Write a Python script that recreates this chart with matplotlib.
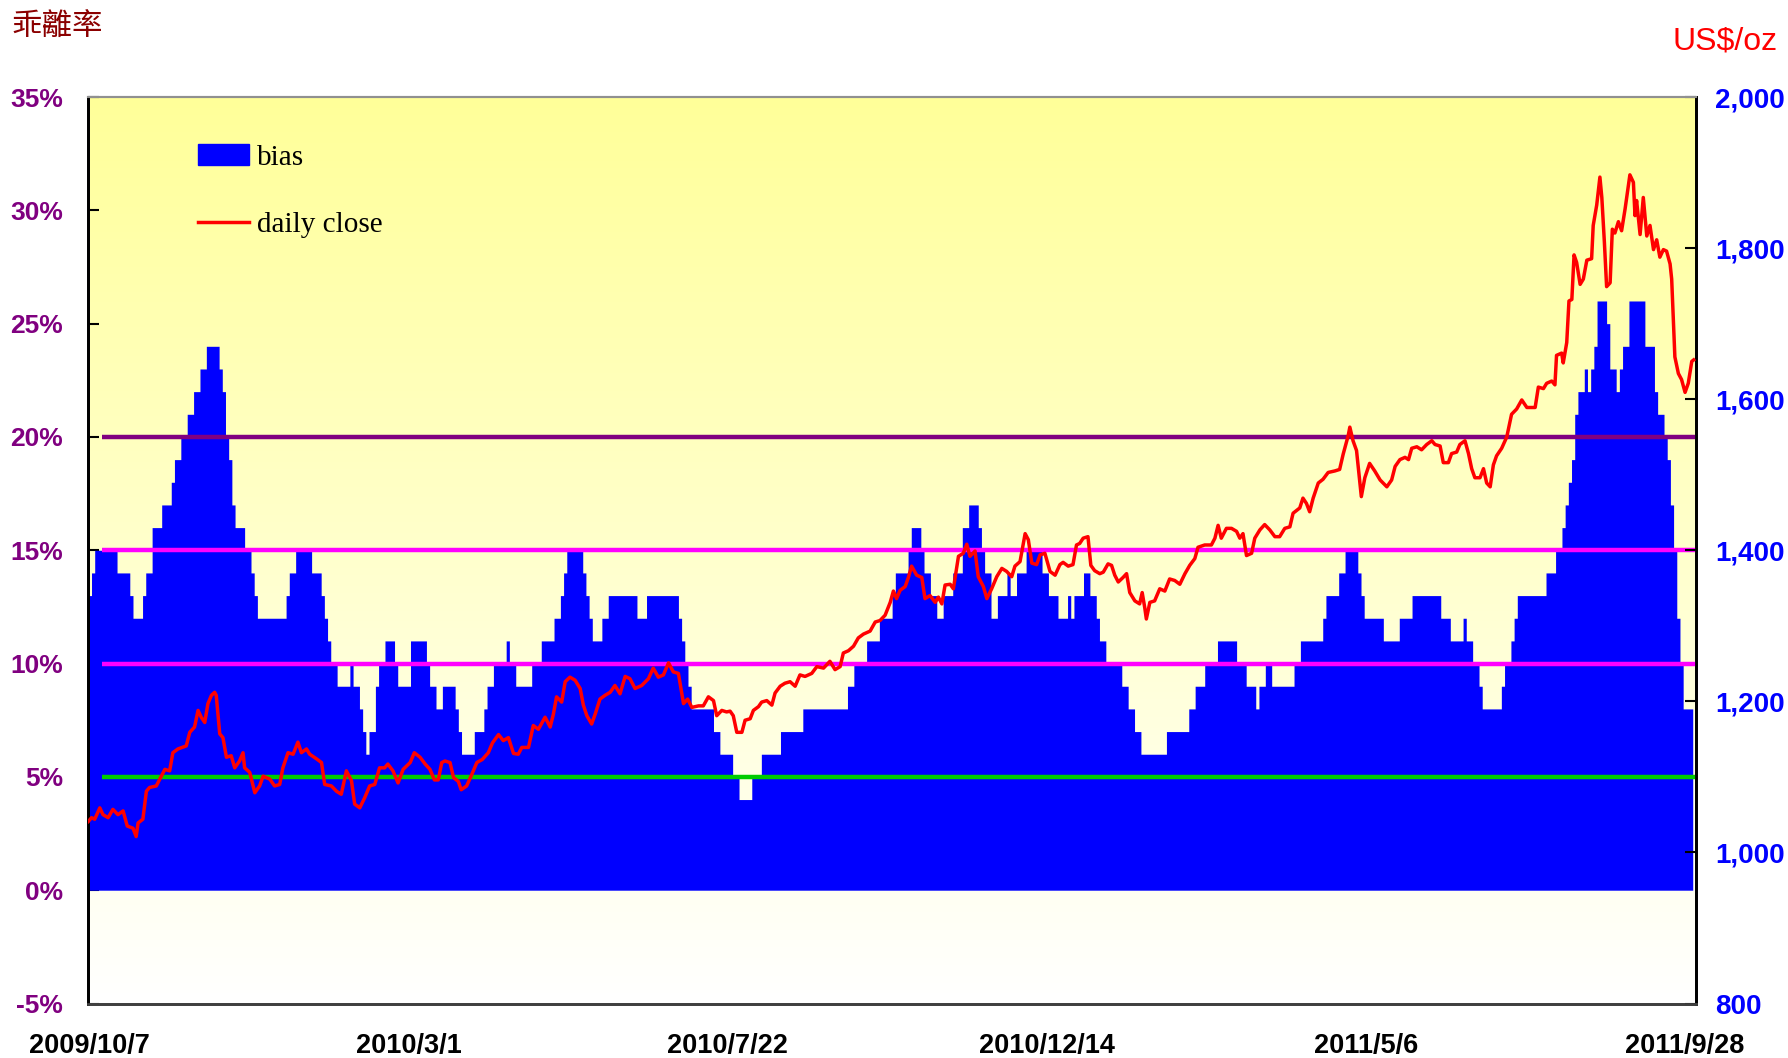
import numpy as np
import matplotlib
matplotlib.use("Agg")
import matplotlib.pyplot as plt
from matplotlib.patches import Patch
from matplotlib.lines import Line2D
from matplotlib.colors import LinearSegmentedColormap

# ---------------------------------------------------------------
# data (x = trading day index since 2009/10/7)
# ---------------------------------------------------------------
n_days = 504
date_labels = ["2009/10/7", "2010/3/1", "2010/7/22", "2010/12/14", "2011/5/6", "2011/9/28"]
label_every = 100

# bias (%) as steps: (first day, value)
bias_runs = [
    (0, 13), (1, 14), (2, 15), (9, 14), (13, 13), (14, 12), (17, 13), (18, 14), (20, 16),
    (23, 17), (26, 18), (27, 19), (29, 20), (31, 21), (33, 22), (35, 23), (37, 24), (41, 23),
    (42, 22), (43, 20), (44, 19), (45, 17), (46, 16), (49, 15), (51, 14), (52, 13), (53, 12),
    (62, 13), (63, 14), (65, 15), (70, 14), (73, 13), (74, 12), (75, 11), (76, 10), (78, 9),
    (82, 10), (83, 9), (85, 8), (86, 7), (87, 6), (88, 7), (90, 9), (91, 10), (93, 11),
    (96, 10), (97, 9), (101, 11), (106, 10), (107, 9), (109, 8), (111, 9), (115, 8), (116, 7),
    (117, 6), (121, 7), (124, 8), (125, 9), (127, 10), (131, 11), (132, 10), (134, 9),
    (139, 10), (142, 11), (146, 12), (148, 13), (149, 14), (150, 15), (155, 14), (156, 13),
    (157, 12), (158, 11), (161, 12), (163, 13), (172, 12), (175, 13), (185, 12), (186, 11),
    (187, 10), (188, 9), (189, 8), (196, 7), (198, 6), (202, 5), (204, 4), (208, 5), (211, 6),
    (217, 7), (224, 8), (238, 9), (240, 10), (244, 11), (248, 12), (252, 13), (253, 14),
    (257, 15), (258, 16), (261, 15), (262, 14), (264, 13), (266, 12), (268, 13), (271, 14),
    (274, 16), (276, 17), (279, 16), (280, 15), (281, 14), (283, 12), (285, 13), (288, 14),
    (289, 13), (291, 14), (294, 15), (299, 14), (301, 13), (304, 12), (307, 13), (308, 12),
    (309, 13), (312, 14), (314, 13), (316, 12), (317, 11), (319, 10), (324, 9), (326, 8),
    (328, 7), (330, 6), (338, 7), (345, 8), (347, 9), (350, 10), (354, 11), (360, 10),
    (363, 9), (366, 8), (367, 9), (369, 10), (371, 9), (378, 10), (380, 11), (387, 12),
    (388, 13), (392, 14), (394, 15), (398, 14), (399, 13), (400, 12), (406, 11), (411, 12),
    (415, 13), (424, 12), (427, 11), (431, 12), (432, 11), (434, 10), (436, 9), (437, 8),
    (443, 9), (444, 10), (446, 11), (447, 12), (448, 13), (457, 14), (460, 15), (462, 16),
    (463, 17), (464, 18), (465, 19), (466, 21), (467, 22), (469, 23), (470, 22), (471, 23),
    (472, 24), (473, 26), (476, 25), (477, 23), (479, 22), (480, 23), (481, 24), (483, 26),
    (488, 24), (491, 22), (492, 21), (494, 20), (495, 19), (496, 17), (497, 15), (498, 12),
    (499, 10), (500, 8),
]
bias_end = 503

# daily close (US$/oz): (day, price)
close_points = [
    (0, 1041), (1, 1046), (2, 1044), (3.6, 1059), (4.6, 1050), (6.2, 1046), (7.7, 1057),
    (9.3, 1050), (10.9, 1055), (12.2, 1035), (14, 1032), (15, 1021), (15.6, 1039), (17.1, 1044),
    (18.2, 1081), (19.2, 1086), (21.3, 1088), (22.4, 1097), (24, 1110), (25.5, 1108),
    (26.5, 1132), (28.1, 1137), (30.7, 1141), (31.8, 1159), (33.3, 1166), (34.4, 1188),
    (35.4, 1179), (36.5, 1172), (37.5, 1197), (38.6, 1208), (39.6, 1212), (40.1, 1208),
    (41.2, 1157), (42.2, 1152), (43.3, 1126), (44.8, 1128), (45.9, 1112), (47.4, 1121),
    (48.5, 1132), (49, 1112), (50.6, 1106), (52.2, 1079), (53.7, 1088), (54.8, 1101),
    (56.9, 1097), (58.4, 1088), (60, 1090), (61, 1112), (62.6, 1132), (64.2, 1130),
    (65.7, 1146), (66.8, 1132), (68.4, 1137), (69.4, 1130), (71.5, 1124), (73.1, 1119),
    (74.1, 1090), (76.2, 1088), (77.8, 1081), (79.3, 1077), (80.9, 1108), (82.5, 1095),
    (83.5, 1064), (85.1, 1059), (86.6, 1072), (88.2, 1088), (89.8, 1090), (91.3, 1112),
    (92.9, 1112), (93.9, 1117), (95.5, 1108), (97.1, 1092), (98.7, 1110),
    (100.9, 1119), (102.2, 1132), (104, 1126), (105.6, 1117), (107.1, 1110), (108.5, 1096),
    (109.7, 1096), (110.8, 1119), (111.8, 1121), (113.4, 1119), (114.5, 1099), (116, 1094),
    (116.9, 1083), (118.6, 1088), (120.2, 1103), (121.8, 1119), (123.5, 1123), (125.4, 1132),
    (126.7, 1145), (128.6, 1156), (130.1, 1148), (131.7, 1152), (133.3, 1131), (134.8, 1130),
    (135.9, 1139), (138, 1139), (139.5, 1168), (141.1, 1163), (143.2, 1179), (144.8, 1166),
    (145.8, 1183), (146.8, 1206), (148.4, 1199), (149.5, 1226), (151, 1232), (152.6, 1228),
    (154.2, 1217), (155.2, 1195), (156.3, 1181), (157.8, 1170), (158.9, 1183), (160.4, 1203),
    (162, 1208), (163.6, 1212), (165.1, 1221), (166.7, 1210), (168.3, 1233), (169.8, 1230),
    (171.4, 1217), (173.5, 1221), (175.6, 1230), (177.1, 1244), (178.7, 1232), (180.3, 1235),
    (181.9, 1251), (183.4, 1239), (185, 1237), (186.6, 1197), (187.9, 1203), (189.2, 1192),
    (191.3, 1194), (192.8, 1194), (194.4, 1206), (196, 1201), (197, 1181), (198.6, 1188),
    (200.1, 1186),
    (201.2, 1187), (202.2, 1181), (203.3, 1159), (204.9, 1159), (205.9, 1175), (207.5, 1177),
    (208.5, 1188), (210.1, 1193), (211.1, 1199), (212.7, 1201), (214.3, 1195), (215.3, 1211),
    (216.9, 1220), (218.4, 1224), (220, 1226), (221.6, 1220), (223.1, 1235), (224.7, 1233),
    (226.8, 1237), (228.4, 1246), (230.5, 1244), (232.5, 1253), (234.1, 1242), (235.7, 1246),
    (236.7, 1264), (238.3, 1267), (239.9, 1273), (241.4, 1284), (243, 1289), (245.1, 1293),
    (246.7, 1305), (248.2, 1307), (249.8, 1314), (251.4, 1331), (252.4, 1346), (253.4, 1336),
    (254.5, 1347), (256.1, 1352), (257.1, 1364), (258.1, 1379), (259.7, 1367), (261.3, 1364),
    (262.3, 1336), (263.9, 1340), (265.5, 1331), (266.5, 1338), (267.6, 1329), (268.6, 1354),
    (270.2, 1355), (271.2, 1349), (272.8, 1392), (274.3, 1396), (275.4, 1408), (276.4, 1392),
    (278, 1399), (279, 1365), (280.6, 1352), (281.7, 1336), (283.2, 1349), (284.8, 1365),
    (286.4, 1376), (287.9, 1372), (289.5, 1365), (290.5, 1379), (292.1, 1385), (293.7, 1422),
    (294.7, 1414), (295.8, 1383), (297.3, 1381), (298.4, 1394), (299.9, 1396), (301.5, 1372),
    (303.1, 1367),
    (304.6, 1381), (305.6, 1384), (307.2, 1379), (308.7, 1381), (309.8, 1407), (310.8, 1409),
    (311.9, 1416), (313.4, 1418), (314.3, 1380), (315.5, 1373), (317.1, 1369), (318.2, 1371),
    (319.7, 1382), (320.8, 1380), (321.8, 1367), (322.9, 1358), (324.4, 1364), (325.5, 1369),
    (326.5, 1344), (328.1, 1333), (329.6, 1329), (330.4, 1344), (331.2, 1324), (331.7, 1309),
    (332.8, 1331), (334.3, 1333), (335.9, 1349), (337.5, 1346), (339, 1362), (340.6, 1360),
    (342.2, 1355), (343.8, 1369), (345.3, 1380), (346.9, 1389), (347.9, 1404), (350, 1407),
    (352.1, 1407), (353.2, 1416), (354.2, 1433), (355.2, 1416), (356.8, 1429), (358.4, 1429),
    (360, 1425), (361, 1416), (362, 1422), (363.1, 1393), (364.7, 1396), (365.7, 1416),
    (367.3, 1427), (368.8, 1434), (370.4, 1427), (372, 1418), (373.5, 1418), (375.1, 1429),
    (376.7, 1431), (377.7, 1449), (379.8, 1456), (380.8, 1469), (381.9, 1462), (382.9, 1451),
    (384, 1469), (385.6, 1489), (387.1, 1494), (388.7, 1503), (390.8, 1505), (392.3, 1507),
    (393.4, 1527), (395, 1552), (395.5, 1563), (396.5, 1545), (397.6, 1532), (398.6, 1491),
    (399.1, 1471), (400.2, 1496), (401.7, 1515), (403.3, 1505),
    (405, 1493), (407.1, 1484), (408.6, 1493), (409.7, 1511), (411.2, 1520), (412.8, 1523),
    (413.9, 1520), (414.9, 1535), (416.5, 1537), (418, 1533), (419.6, 1540), (421.2, 1545),
    (422.2, 1540), (423.8, 1538), (424.8, 1516), (426.4, 1516), (427.4, 1528), (429, 1530),
    (430, 1540), (431.6, 1545), (432.7, 1528), (433.7, 1508), (434.7, 1496), (436.3, 1496),
    (437.4, 1508), (438.4, 1489), (439.5, 1484), (440.5, 1513), (441.5, 1525), (443.1, 1535),
    (444.7, 1550), (446.2, 1580), (447.8, 1587), (449.4, 1599), (451, 1589), (452.5, 1589),
    (453.6, 1589), (454.6, 1616), (456.2, 1614), (457.2, 1621), (458.8, 1624), (459.8, 1619),
    (460.3, 1658), (461.9, 1661), (462.4, 1648), (463.5, 1675), (464.2, 1730), (465.1, 1732),
    (465.8, 1791), (466.6, 1781), (467.7, 1752), (468.7, 1759), (469.8, 1784), (471.3, 1786),
    (471.8, 1830), (472.9, 1857), (473.9, 1894), (474.5, 1867), (475.3, 1808), (476, 1749),
    (477.1, 1754), (477.8, 1825), (478.6, 1820), (479.7, 1835), (480.7, 1823), (481.8, 1852),
    (483.3, 1897), (484.4, 1887), (484.9, 1843), (485.4, 1863), (486.5, 1818), (487.5, 1867),
    (488.6, 1816), (489.6, 1830), (490.7, 1798), (491.7, 1811), (492.7, 1788), (493.8, 1798),
    (494.8, 1796), (495.9, 1779), (496.4, 1759), (497.4, 1656), (498.5, 1634), (499.5, 1626),
    (500.6, 1609), (501.6, 1621), (502.7, 1650), (503.3, 1652),
]

ref_levels = [20, 15, 10, 5]
ref_colors = ["#800080", "#FF00FF", "#FF00FF", "#00CC00"]
ref_start = 4.3

# ---------------------------------------------------------------
# build series
# ---------------------------------------------------------------
bias_start = np.array([s for s, _ in bias_runs])
bias_val = np.array([v for _, v in bias_runs])
bias = np.repeat(bias_val, np.diff(np.append(bias_start, bias_end)))
close_day = np.array([d for d, _ in close_points])
close_price = np.array([p for _, p in close_points])

# ---------------------------------------------------------------
# figure
# ---------------------------------------------------------------
fig = plt.figure(figsize=(17.88, 10.58), dpi=100)
ax = fig.add_axes([0.0494, 0.0515, 0.8991, 0.8568])
ax2 = ax.twinx()

# pale yellow gradient background
bg = LinearSegmentedColormap.from_list("bg", ["#FFFFFF", "#FFFF99"])
ax.imshow(np.linspace(0, 1, 256).reshape(-1, 1), cmap=bg, origin="lower", aspect="auto",
          extent=[0, n_days, -5, 35], zorder=0)

# bias columns (gap 0) as one stepped area
x_edges = np.arange(len(bias) + 1)
ax.fill_between(x_edges, 0, np.append(bias, bias[-1]), step="post",
                color="#0000FF", lw=0, zorder=2)

for lvl, col in zip(ref_levels, ref_colors):
    ax.hlines(lvl, ref_start, n_days, colors=col, lw=3.2, zorder=3)

ax2.plot(close_day, close_price, color="#FF0000", lw=2.5, zorder=4)

ax.set_xlim(0, n_days)
ax.set_ylim(-5, 35)
ax2.set_ylim(800, 2000)
ax2.patch.set_visible(False)

# left axis
pct_ticks = list(range(-5, 36, 5))
ax.set_yticks(pct_ticks, labels=[f"{t}%" for t in pct_ticks], fontsize=19,
              fontweight="bold", color="#800080", family="Liberation Sans")
ax.tick_params(axis="y", direction="in", length=8, width=1.5, pad=18)

# right axis
usd_ticks = list(range(800, 2001, 200))
ax2.set_yticks(usd_ticks, labels=[f"{t:,}" for t in usd_ticks], fontsize=20,
               fontweight="bold", color="#0000FF", family="Liberation Sans")
ax2.tick_params(axis="y", direction="in", length=8, width=1.5, pad=14)

# date axis
tick_pos = [i * label_every + 0.5 for i in range(len(date_labels))]
ax.set_xticks(tick_pos, labels=date_labels, fontsize=19.5, fontweight="bold",
              color="black", family="Liberation Sans")
ax.tick_params(axis="x", length=0, pad=21)

for a in (ax, ax2):
    a.spines["left"].set_color("black")
    a.spines["left"].set_linewidth(2)
    a.spines["right"].set_color("black")
    a.spines["right"].set_linewidth(2)
    a.spines["bottom"].set_color("#404040")
    a.spines["bottom"].set_linewidth(2)
    a.spines["top"].set_color("#909090")
    a.spines["top"].set_linewidth(1.5)

# legend
handles = [Patch(facecolor="#0000FF", edgecolor="#0000FF"),
           Line2D([], [], color="#FF0000", lw=2.5)]
ax2.legend(handles, ["bias", "daily close"], loc="upper left",
           bbox_to_anchor=(0.068, 0.948), frameon=False,
           prop={"family": "Liberation Serif", "size": 21},
           handlelength=1.75, handleheight=0.7, handletextpad=0.3,
           labelspacing=1.42, borderpad=0, borderaxespad=0)

# axis titles
fig.text(11 / 1788, 1 - 12 / 1058, "乖離率", fontsize=22, color="#8B0000",
         family=["Noto Sans CJK TC", "DejaVu Sans"], ha="left", va="top")
fig.text(1778 / 1788, 1 - 27 / 1058, "US$/oz", fontsize=23, color="#FF0000",
         family="Liberation Sans", ha="right", va="top")

fig.savefig("out.png", dpi=100)
plt.close(fig)
